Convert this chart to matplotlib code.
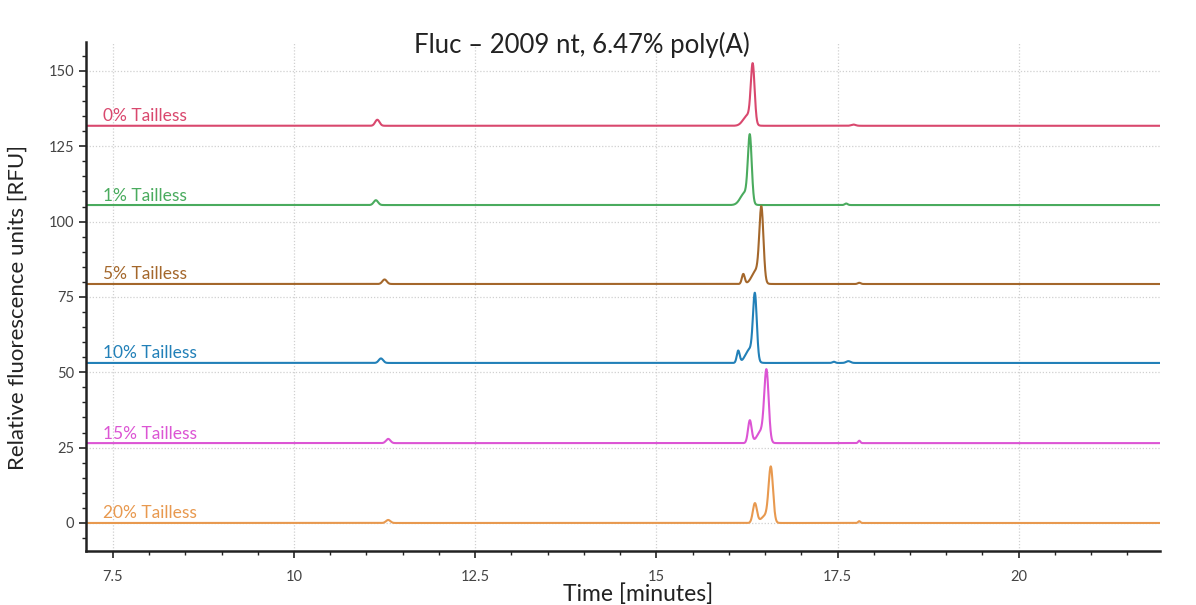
import numpy as np
import matplotlib
matplotlib.use("Agg")
import matplotlib.pyplot as plt
from matplotlib.ticker import MultipleLocator

plt.rcParams['font.family'] = ['Lato', 'DejaVu Sans']

# ---- data ----
labels = ["0% Tailless", "1% Tailless", "5% Tailless", "10% Tailless", "15% Tailless", "20% Tailless"]
colors = ["#d9486e", "#4aab5e", "#a4672b", "#2280b8", "#dc55d4", "#e8994f"]
baselines = [131.8, 105.5, 79.3, 53.1, 26.5, 0.0]

# peaks per trace: (center [min], height [RFU above baseline], sigma [min])
peak_centers = [
    [11.15, 16.26, 16.33, 17.72],
    [11.13, 16.22, 16.29, 17.62],
    [11.25, 16.20, 16.38, 16.45, 17.80],
    [11.20, 16.13, 16.29, 16.36, 17.45, 17.65],
    [11.30, 16.29, 16.45, 16.52, 17.80],
    [11.30, 16.36, 16.51, 16.58, 17.80],
]
peak_heights = [
    [2.0, 3.5, 19.0, 0.4],
    [1.6, 4.0, 21.5, 0.5],
    [1.5, 3.3, 4.5, 23.5, 0.4],
    [1.5, 4.0, 4.5, 21.0, 0.4, 0.6],
    [1.4, 7.5, 4.0, 22.5, 0.8],
    [1.0, 6.5, 2.5, 17.5, 0.6],
]
peak_widths = [
    [0.03, 0.06, 0.026, 0.03],
    [0.03, 0.06, 0.026, 0.02],
    [0.03, 0.02, 0.06, 0.028, 0.02],
    [0.03, 0.02, 0.06, 0.026, 0.02, 0.03],
    [0.03, 0.025, 0.06, 0.03, 0.015],
    [0.03, 0.028, 0.06, 0.03, 0.015],
]

x_ticks = [7.5, 10, 12.5, 15, 17.5, 20]
x_ticklabels = ["7.5", "10", "12.5", "15", "17.5", "20"]
y_ticks = [0, 25, 50, 75, 100, 125, 150]

# ---- figure ----
fig = plt.figure(figsize=(11.96, 6.05), dpi=100)
ax = fig.add_axes([86/1196, 54/605, (1160-86)/1196, (551-42)/605])

t = np.linspace(7.13, 21.95, 6000)
for lab, col, base, cs, hs, ws in zip(labels, colors, baselines, peak_centers, peak_heights, peak_widths):
    y = np.full_like(t, base)
    for c, h, w in zip(cs, hs, ws):
        y += h * np.exp(-0.5 * ((t - c) / w) ** 2)
    ax.plot(t, y, color=col, lw=1.5, solid_capstyle='butt')
    ax.text(7.36, base + 0.5, lab, color=col, fontsize=12.5, va='bottom', ha='left')

ax.set_xlim(7.13, 21.95)
ax.set_ylim(-9.3, 159.6)
ax.set_xticks(x_ticks)
ax.set_xticklabels(x_ticklabels)
ax.set_yticks(y_ticks)
ax.xaxis.set_minor_locator(MultipleLocator(0.5))
ax.yaxis.set_minor_locator(MultipleLocator(5))
ax.grid(True, which='major', color='#d0d0d0', linestyle=(0, (1, 1.5)), lw=0.9)
for s in ['top', 'right']:
    ax.spines[s].set_visible(False)
for s in ['left', 'bottom']:
    ax.spines[s].set_linewidth(1.8)
    ax.spines[s].set_color('#222222')
ax.tick_params(which='major', length=5, width=1.2, labelsize=10.5, labelcolor='#444444', color='#222222')
ax.tick_params(which='minor', length=3, width=1.0, color='#222222')
ax.tick_params(axis='x', pad=9)

fig.text(582/1196, 1 - 45/605, "Fluc \u2013 2009 nt, 6.47% poly(A)", ha='center', va='center',
         fontsize=18.5, color='#222222')
fig.text(18/1196, 1 - 307/605, "Relative fluorescence units [RFU]", rotation=90, ha='center', va='center',
         fontsize=16, color='#222222')
fig.text(638/1196, 1 - 594/605, "Time [minutes]", ha='center', va='center', fontsize=16.5, color='#222222')

fig.savefig("out.png", dpi=100)
